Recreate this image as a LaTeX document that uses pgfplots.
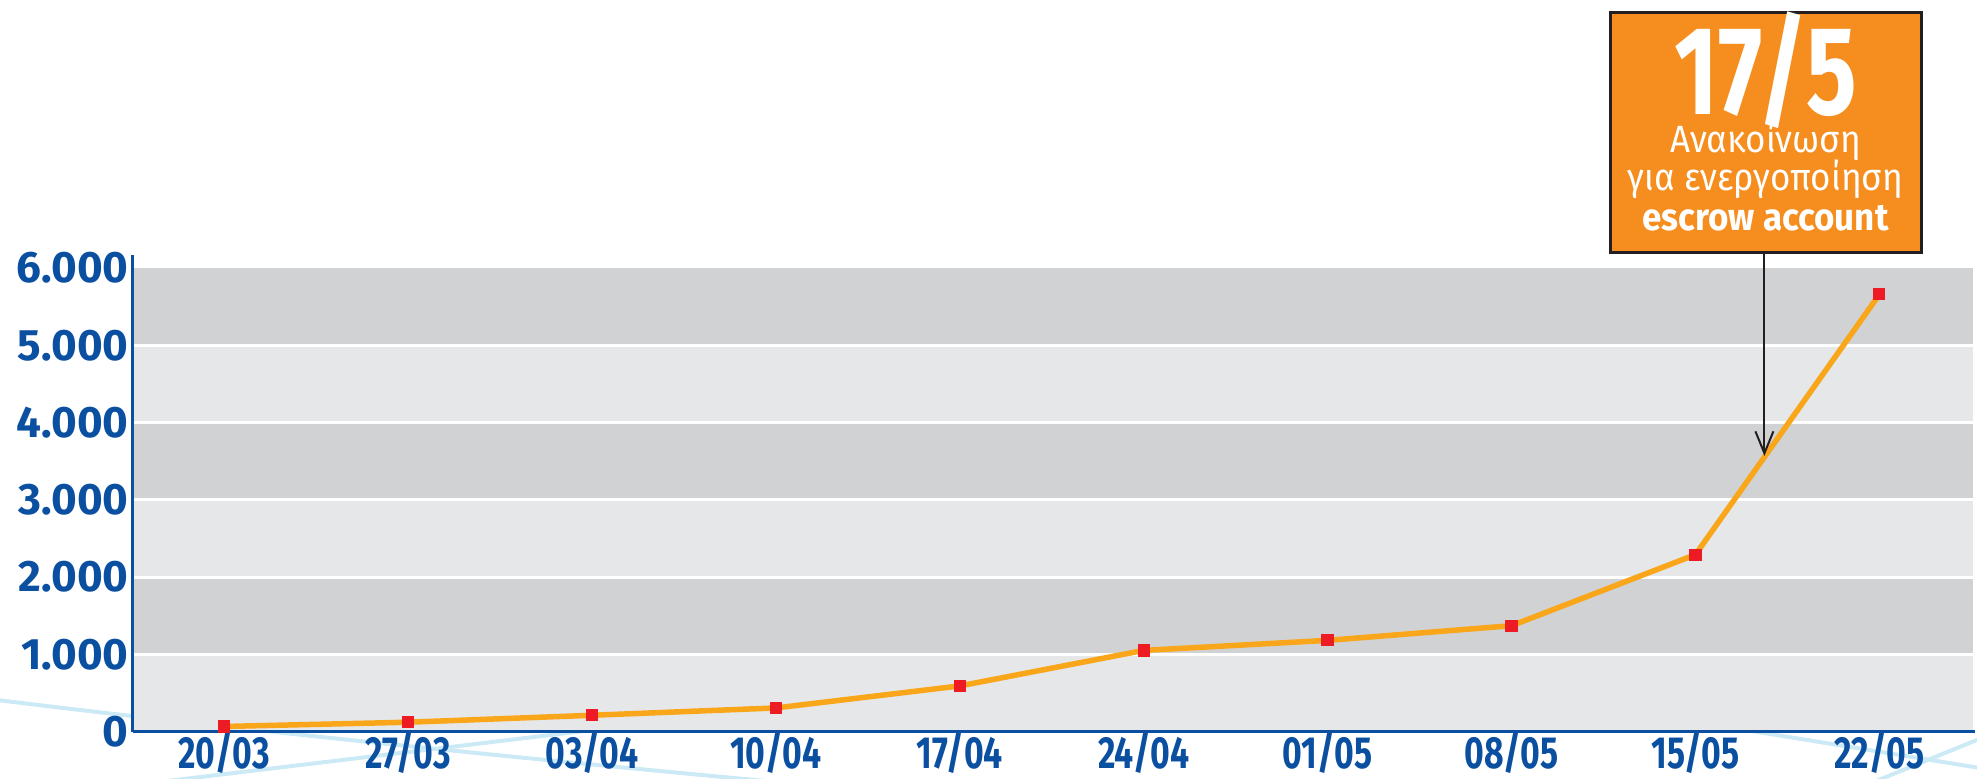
\documentclass[border=0pt]{standalone}
\usepackage{fontspec}
\setmainfont{Fira Sans}
\newfontfamily\condfont[FakeStretch=0.75]{Fira Sans}
\newfontfamily\semicondfont[FakeStretch=0.92]{Fira Sans}
\usepackage{pgfplots}
\pgfplotsset{compat=1.18}
\usetikzlibrary{arrows.meta}

\definecolor{axisblue}{RGB}{11,79,160}
\definecolor{banddark}{RGB}{209,210,212}
\definecolor{bandlight}{RGB}{230,231,233}
\definecolor{lineorange}{RGB}{250,166,26}
\definecolor{markred}{RGB}{237,28,36}
\definecolor{boxorange}{RGB}{245,141,31}
\definecolor{boxedge}{RGB}{35,31,32}
\definecolor{deco}{RGB}{204,234,245}

\begin{document}
\begin{tikzpicture}
\path[use as bounding box] (-66.5pt,-23.25pt) rectangle (922pt,365.75pt);

% light decorative strokes behind the chart
\draw[deco, line width=2pt] (-70pt,16pt) .. controls (60pt,0pt) and (200pt,-14pt) .. (330pt,-26pt);
\draw[deco, line width=2pt] (15pt,-25pt) -- (240pt,2pt);
\draw[deco, line width=2pt] (780pt,5pt) -- (925pt,-18.5pt);
\draw[deco, line width=2pt] (866pt,-27pt) -- (925pt,-3pt);

\begin{axis}[
    scale only axis,
    width=921pt, height=238.25pt,
    xmin=-0.495, xmax=9.52,
    ymin=0, ymax=6170,
    axis x line=bottom, axis y line=left,
    axis line style={-, axisblue, line width=1.5pt},
    axis on top,
    clip=false,
    xtick={0,...,9},
    xticklabels={20/03,27/03,03/04,10/04,17/04,24/04,01/05,08/05,15/05,22/05},
    ytick={0,1000,2000,3000,4000,5000,6000},
    yticklabels={0,1.000,2.000,3.000,4.000,5.000,6.000},
    major tick length=0pt,
    xticklabel style={font=\condfont\bfseries\fontsize{22.5}{22.5}\selectfont, text=axisblue, inner ysep=0pt, yshift=0pt},
    yticklabel style={font=\bfseries\fontsize{22}{22}\selectfont, text=axisblue, inner xsep=0pt, xshift=-2pt},
]
% alternating bands
\fill[bandlight] (axis cs:-0.495,0) rectangle (axis cs:9.51,1000);
\fill[banddark]  (axis cs:-0.495,1000) rectangle (axis cs:9.51,2000);
\fill[bandlight] (axis cs:-0.495,2000) rectangle (axis cs:9.51,3000);
\fill[banddark]  (axis cs:-0.495,3000) rectangle (axis cs:9.51,4000);
\fill[bandlight] (axis cs:-0.495,4000) rectangle (axis cs:9.51,5000);
\fill[banddark]  (axis cs:-0.495,5000) rectangle (axis cs:9.51,6000);
\draw[white, line width=1.5pt] (axis cs:-0.495,1000) -- (axis cs:9.51,1000);
\draw[white, line width=1.5pt] (axis cs:-0.495,2000) -- (axis cs:9.51,2000);
\draw[white, line width=1.5pt] (axis cs:-0.495,3000) -- (axis cs:9.51,3000);
\draw[white, line width=1.5pt] (axis cs:-0.495,4000) -- (axis cs:9.51,4000);
\draw[white, line width=1.5pt] (axis cs:-0.495,5000) -- (axis cs:9.51,5000);

\addplot[lineorange, line width=2.75pt, mark=square*, mark size=2.8pt,
         mark options={solid, fill=markred, draw=markred, line width=0pt}]
  coordinates {(0,65) (1,120) (2,210) (3,305) (4,590) (5,1050) (6,1180) (7,1370) (8,2290) (9,5660)};

\draw[boxedge, line width=1pt, -{Straight Barb[length=11pt,width=9pt]}]
  (axis cs:8.375,6190) -- (axis cs:8.375,3568);
\end{axis}

% annotation box
\draw[boxedge, line width=1.5pt, fill=boxorange] (738.5pt,239.25pt) rectangle (894pt,359.25pt);
\node[anchor=base, text=white, inner sep=0pt, font=\condfont\bfseries\fontsize{63}{63}\selectfont]
  at (816.25pt,308.25pt) {17/5};
\node[anchor=base, text=white, inner sep=0pt, font=\semicondfont\fontsize{19}{19}\selectfont]
  at (816.25pt,289.25pt) {Ανακοίνωση};
\node[anchor=base, text=white, inner sep=0pt, font=\semicondfont\fontsize{19}{19}\selectfont]
  at (816.25pt,270.25pt) {για ενεργοποίηση};
\node[anchor=base, text=white, inner sep=0pt, font=\semicondfont\bfseries\fontsize{19}{19}\selectfont]
  at (816.25pt,250.75pt) {escrow account};
\end{tikzpicture}
\end{document}
